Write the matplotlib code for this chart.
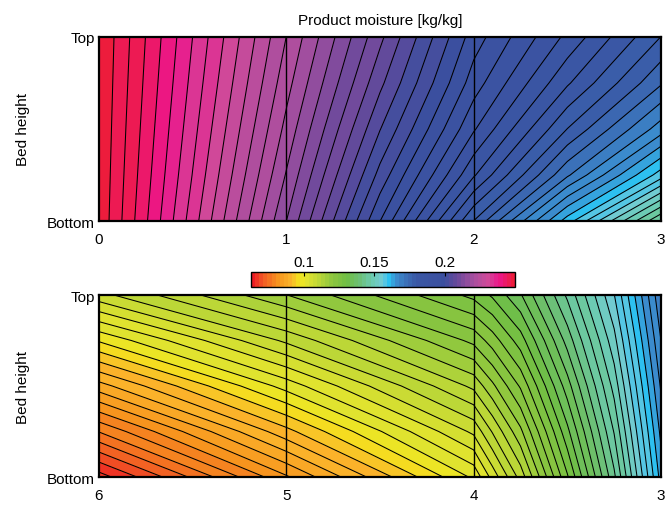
import numpy as np
import matplotlib
matplotlib.use("Agg")
import matplotlib.pyplot as plt
from matplotlib.colors import LinearSegmentedColormap, ListedColormap, Normalize

plt.rcParams['font.family'] = ['Liberation Sans', 'DejaVu Sans']
plt.rcParams['font.size'] = 11

# --- data ------------------------------------------------------------------
heights = [0.0, 0.25, 0.5, 0.75, 1.0]          # Bottom -> Top

# upper panel: time 0..3
t_upper = [0.0, 0.5, 1.0, 1.5, 2.0, 2.5, 3.0]
m_upper = [  # rows = heights, cols = t_upper
    [0.2495, 0.2326, 0.2153, 0.1968, 0.1782, 0.1609, 0.1435],
    [0.2496, 0.2337, 0.2174, 0.2006, 0.1855, 0.1717, 0.1586],
    [0.2497, 0.2346, 0.2192, 0.2038, 0.1901, 0.1782, 0.1678],
    [0.2498, 0.2354, 0.2208, 0.2066, 0.1933, 0.1832, 0.1739],
    [0.2499, 0.2361, 0.2222, 0.2089, 0.1956, 0.1869, 0.1782],
]

# lower panel: time 6..3 (axis reversed)
t_lower = [6.0, 5.0, 4.0, 3.9, 3.75, 3.5, 3.25, 3.0]
m_lower = [
    [0.0660, 0.0830, 0.1000, 0.1050, 0.1120, 0.1270, 0.1430, 0.1630],
    [0.0765, 0.0918, 0.1070, 0.1113, 0.1175, 0.1313, 0.1460, 0.1650],
    [0.0870, 0.1005, 0.1140, 0.1175, 0.1230, 0.1355, 0.1490, 0.1670],
    [0.0975, 0.1093, 0.1210, 0.1238, 0.1285, 0.1398, 0.1520, 0.1690],
    [0.1080, 0.1180, 0.1280, 0.1300, 0.1340, 0.1440, 0.1550, 0.1710],
]

vmin, vmax = 0.0625, 0.25
cbar_ticks = [0.1, 0.15, 0.2]
upper_ticks = [0, 1, 2, 3]
lower_ticks = [6, 5, 4, 3]

# colormap anchors (value, colour) taken from the colour bar
anchors = [
    (0.0625, '#ed1c24'), (0.070, '#f15a24'), (0.080, '#f7931e'),
    (0.090, '#fbb62b'), (0.096, '#f3e51d'), (0.100, '#e3e42e'),
    (0.110, '#bdd737'), (0.120, '#8dc63f'), (0.130, '#6fbe44'),
    (0.140, '#6cc07a'), (0.148, '#6ccbb0'), (0.156, '#72cbd9'),
    (0.161, '#2dc0f0'), (0.166, '#3b8fd0'), (0.173, '#3b70b8'),
    (0.180, '#3a58a6'), (0.200, '#3b4f9f'), (0.210, '#67499b'),
    (0.222, '#a94f9f'), (0.232, '#cf4a9a'), (0.240, '#ec168b'),
    (0.250, '#ed1c3c'),
]
pos = [(v - vmin) / (vmax - vmin) for v, _ in anchors]
smooth = LinearSegmentedColormap.from_list('moist', list(zip(pos, [c for _, c in anchors])))
cmap = ListedColormap(smooth(np.linspace(0, 1, 64)))
norm = Normalize(vmin=vmin, vmax=vmax)
levels = np.linspace(vmin, vmax, 82)

fig = plt.figure(figsize=(6.71, 5.10), dpi=100)
ax1 = fig.add_axes([0.1475, 0.5647, 0.8376, 0.3608])
ax2 = fig.add_axes([0.1475, 0.0627, 0.8376, 0.3569])
cax = fig.add_axes([0.374, 0.4353, 0.3934, 0.0294])


def panel(ax, t, z, ticks, lim, grid):
    T, H = np.meshgrid(t, heights)
    Z = np.array(z)
    ax.contourf(T, H, Z, levels=levels, cmap=cmap, norm=norm)
    ax.contour(T, H, Z, levels=levels, colors='k', linewidths=0.75)
    for g in grid:
        ax.axvline(g, color='k', lw=1.0)
    ax.set_xlim(*lim)
    ax.set_ylim(0, 1)
    ax.set_xticks(ticks)
    ax.set_yticks([0, 1])
    ax.set_yticklabels(['Bottom', 'Top'])
    ax.tick_params(axis='x', length=0, pad=8)
    ax.tick_params(axis='y', length=0, pad=3)
    ax.set_ylabel('Bed height')
    ax.yaxis.set_label_coords(-0.122, 0.5)
    for s in ax.spines.values():
        s.set_linewidth(1.6)


panel(ax1, t_upper, m_upper, upper_ticks, (0, 3), [1, 2])
panel(ax2, t_lower, m_lower, lower_ticks, (6, 3), [5, 4])
ax1.set_title('Product moisture [kg/kg]', fontsize=11, pad=9)

sm = plt.cm.ScalarMappable(cmap=cmap, norm=norm)
sm.set_array([])
cb = fig.colorbar(sm, cax=cax, orientation='horizontal', ticks=cbar_ticks)
cb.ax.xaxis.set_ticks_position('top')
cb.ax.set_xticklabels(['0.1', '0.15', '0.2'])
cb.ax.tick_params(direction='in', length=3, pad=2)
cb.outline.set_linewidth(1.0)

fig.savefig('out.png', dpi=100)
